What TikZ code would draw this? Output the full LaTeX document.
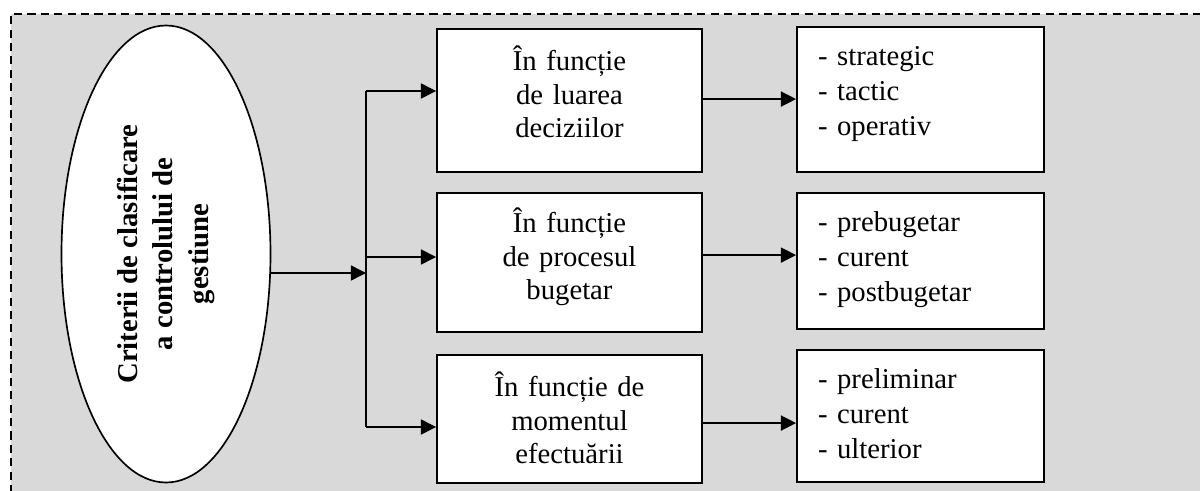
\documentclass[tikz,border=0pt]{standalone}
\usepackage{fontspec}
\setmainfont{Liberation Serif}
\usepackage{tikz}
\usetikzlibrary{shapes.geometric, arrows.meta, positioning}
\newcommand{\px}{0.418pt}
\definecolor{panelgray}{HTML}{D9D9D9}

\begin{document}
\begin{tikzpicture}[
    x=0.418pt, y=-0.418pt,
    critbox/.style={ellipse, draw, fill=white, line width=0.7pt, rotate=90,
        minimum width=457*\px, minimum height=209*\px, inner sep=0pt, align=center,
        font=\fontsize{12}{15}\selectfont\bfseries},
    critbranch/.style={rectangle, draw, fill=white, line width=0.8pt, inner sep=0pt,
        text width=265*\px, align=center, font=\fontsize{12}{13.8}\selectfont},
    itembox/.style={rectangle, draw, fill=white, line width=0.8pt, inner ysep=0pt,
        inner xsep=21*\px, text width=205*\px, align=left, font=\fontsize{12}{14.6}\selectfont},
    arrow/.style={-{Triangle[length=6.3pt, width=6.3pt]}, line width=0.6pt}
]
    \clip (0,0) rectangle (1200,491);
    % background panel
    \fill[panelgray] (11,14) rectangle (1230,520);
    \draw[line width=0.8pt, dash pattern=on 3.4pt off 2.2pt] (11,520) -- (11,14) -- (1230,14);

    \node[critbox] (crit) at (166,254) {Criterii de clasificare\\a controlului de\\gestiune};

    \node[critbranch, text height=42*\px, text depth=101*\px] (dec) at (569.5,100.5) {În funcție\\de luarea\\deciziilor};
    \node[critbranch, text height=40*\px, text depth=99*\px] (buget) at (569.5,262.5) {În funcție\\de procesul\\bugetar};
    \node[critbranch, text height=42*\px, text depth=86*\px] (moment) at (569.5,419) {În funcție de\\momentul\\efectuării};

    \node[itembox, text height=39*\px, text depth=106*\px] (decl) at (920.5,99.5) {- strategic\\- tactic\\- operativ};
    \node[itembox, text height=39*\px, text depth=97*\px] (bugetl) at (920.5,261) {- prebugetar\\- curent\\- postbugetar};
    \node[itembox, text height=39*\px, text depth=93*\px] (momentl) at (920.5,416) {- preliminar\\- curent\\- ulterior};

    \coordinate (fork) at (366,273);
    \coordinate (b1) at (366,91);
    \coordinate (b2) at (366,257);
    \coordinate (b3) at (366,427);

    \draw[arrow] (fork -| crit.south) -- (fork);
    \draw[line width=0.6pt] (b1) -- (b3);
    \draw[arrow] (b1) -- (b1 -| dec.west);
    \draw[arrow] (b2) -- (b2 -| buget.west);
    \draw[arrow] (b3) -- (b3 -| moment.west);

    \draw[arrow] ([yshift=0.6pt]dec.east) -- ([yshift=0.6pt]dec.east -| decl.west);
    \draw[arrow] ([yshift=3.1pt]buget.east) -- ([yshift=3.1pt]buget.east -| bugetl.west);
    \draw[arrow] ([yshift=-1.7pt]moment.east) -- ([yshift=-1.7pt]moment.east -| momentl.west);
\end{tikzpicture}
\end{document}
